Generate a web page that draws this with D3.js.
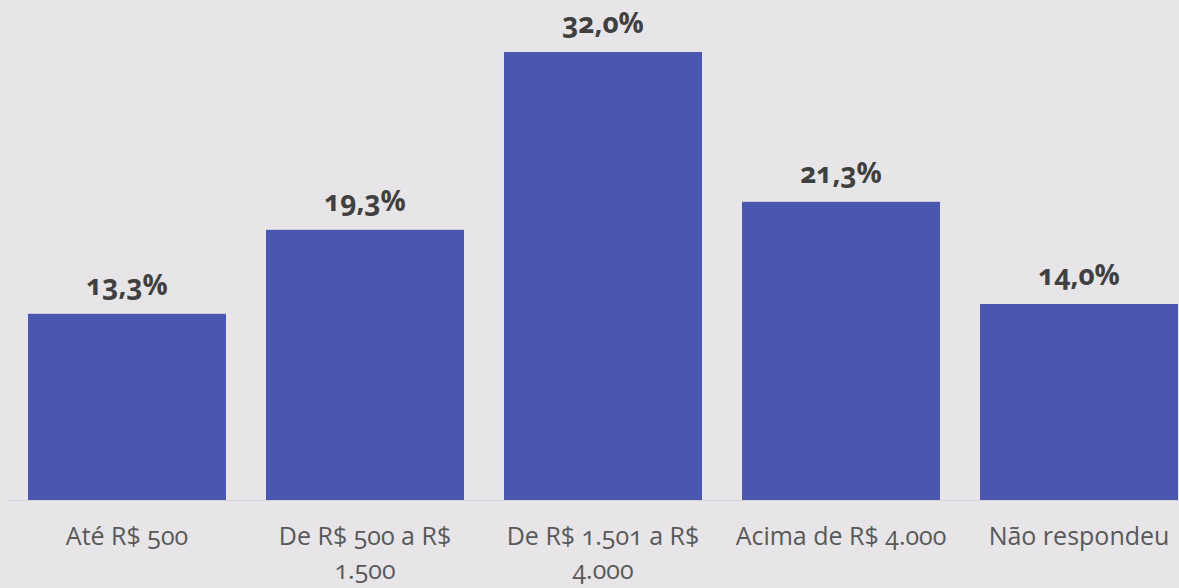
<!DOCTYPE html>
<meta charset="utf-8">
<script src="https://d3js.org/d3.v7.min.js"></script>
<style>
  body { margin: 0; background: #e7e5e8; }
  text { font-family: "Open Sans", Lato, sans-serif; font-variant-numeric: oldstyle-nums; font-feature-settings: "onum" 1; }
</style>
<div id="my_dataviz"></div>
<script>

    // data
    var categories = ["Até R$ 500", "De R$ 500 a R$ 1.500", "De R$ 1.501 a R$ 4.000", "Acima de R$ 4.000", "Não respondeu"];
    var tickLines = [["Até R$ 500"], ["De R$ 500 a R$", "1.500"], ["De R$ 1.501 a R$", "4.000"], ["Acima de R$ 4.000"], ["Não respondeu"]];
    var values = [13.3, 19.3, 32.0, 21.3, 14.0];

    var W = 1179, H = 588;
    var baseline = 500;

    var svg = d3.select("#my_dataviz")
        .append("svg")
            .attr("width", W)
            .attr("height", H);

    svg.append("rect")
        .attr("width", W)
        .attr("height", H)
        .attr("fill", "#e7e5e8");

    // X scale
    var x = d3.scaleBand()
        .range([8, 1198])
        .domain(categories)
        .paddingInner(0.168)
        .paddingOuter(0.084);

    // Y scale
    var y = d3.scaleLinear()
        .domain([0, 32])
        .range([baseline, 52]);

    // baseline
    svg.append("line")
        .attr("x1", 8)
        .attr("x2", W)
        .attr("y1", baseline + 0.5)
        .attr("y2", baseline + 0.5)
        .attr("stroke", "#d6d4d8")
        .attr("stroke-width", 1);

    // Bars
    svg.selectAll("mybar")
        .data(values)
        .enter()
        .append("rect")
        .attr("x", function(d, i) { return x(categories[i]); })
        .attr("y", function(d) { return y(d); })
        .attr("width", x.bandwidth())
        .attr("height", function(d) { return baseline - y(d); })
        .attr("fill", "#4b56b0");

    // value labels
    svg.selectAll("vlabel")
        .data(values)
        .enter()
        .append("text")
        .attr("x", function(d, i) { return x(categories[i]) + x.bandwidth() / 2; })
        .attr("y", function(d) { return y(d) - 19; })
        .attr("text-anchor", "middle")
        .style("font-size", "28px")
        .style("font-weight", "bold")
        .style("fill", "#404040")
        .text(function(d) { return d.toFixed(1).replace(".", ",") + "%"; });

    // category labels
    var ticks = svg.selectAll("tlabel")
        .data(tickLines)
        .enter()
        .append("text")
        .attr("text-anchor", "middle")
        .style("font-size", "25px")
        .style("fill", "#595959");

    ticks.each(function(lines, i) {
        var t = d3.select(this);
        lines.forEach(function(l, j) {
            t.append("tspan")
                .attr("x", x(categories[i]) + x.bandwidth() / 2)
                .attr("y", 545 + j * 34)
                .text(l);
        });
    });

</script>
